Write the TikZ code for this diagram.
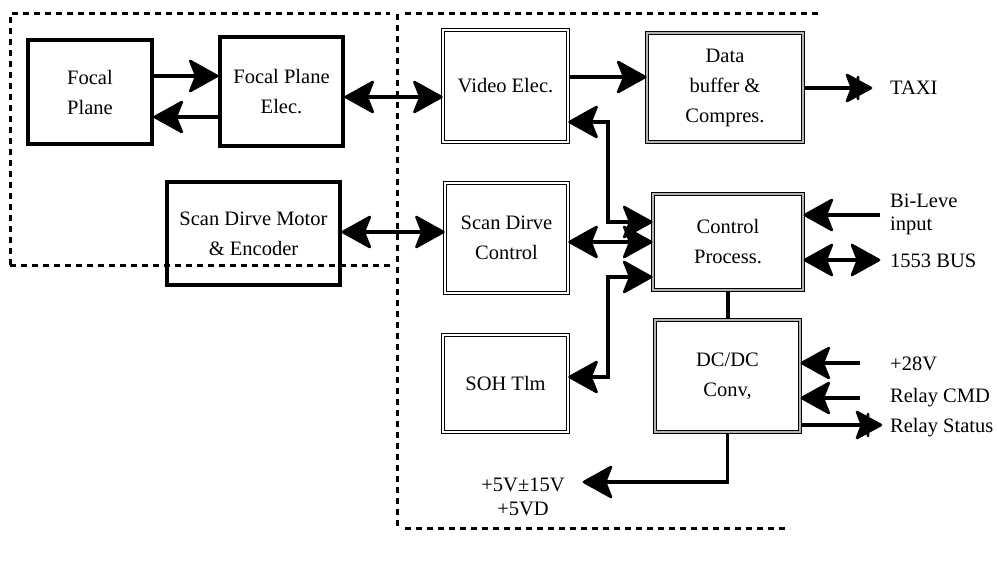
\documentclass[tikz,border=0pt]{standalone}
\usepackage{fontspec}
\setmainfont{Liberation Serif}
\usetikzlibrary{arrows.meta}
\pgfdeclarearrow{
  name = Blob,
  setup code = {
    \pgfarrowssettipend{1pt}
    \pgfarrowssetlineend{-16pt}
    \pgfarrowssetbackend{-28pt}
    \pgfarrowshullpoint{1pt}{0pt}
    \pgfarrowshullpoint{-28pt}{16pt}
    \pgfarrowshullpoint{-28pt}{-16pt}
  },
  drawing code = {
    \pgfsetlinewidth{2.6pt}
    \pgfsetroundcap
    \pgfsetroundjoin
    \pgfpathmoveto{\pgfpoint{0pt}{0pt}}\pgfpathlineto{\pgfpoint{-27pt}{15pt}}
    \pgfpathmoveto{\pgfpoint{0pt}{0pt}}\pgfpathlineto{\pgfpoint{-25.8pt}{12pt}}
    \pgfpathmoveto{\pgfpoint{0pt}{0pt}}\pgfpathlineto{\pgfpoint{-24.6pt}{9pt}}
    \pgfpathmoveto{\pgfpoint{0pt}{0pt}}\pgfpathlineto{\pgfpoint{-23.4pt}{6pt}}
    \pgfpathmoveto{\pgfpoint{0pt}{0pt}}\pgfpathlineto{\pgfpoint{-22.2pt}{3pt}}
    \pgfpathmoveto{\pgfpoint{0pt}{0pt}}\pgfpathlineto{\pgfpoint{-21pt}{0pt}}
    \pgfpathmoveto{\pgfpoint{0pt}{0pt}}\pgfpathlineto{\pgfpoint{-22.2pt}{-3pt}}
    \pgfpathmoveto{\pgfpoint{0pt}{0pt}}\pgfpathlineto{\pgfpoint{-23.4pt}{-6pt}}
    \pgfpathmoveto{\pgfpoint{0pt}{0pt}}\pgfpathlineto{\pgfpoint{-24.6pt}{-9pt}}
    \pgfpathmoveto{\pgfpoint{0pt}{0pt}}\pgfpathlineto{\pgfpoint{-25.8pt}{-12pt}}
    \pgfpathmoveto{\pgfpoint{0pt}{0pt}}\pgfpathlineto{\pgfpoint{-27pt}{-15pt}}
    \pgfpathmoveto{\pgfpoint{-27pt}{15pt}}\pgfpathlineto{\pgfpoint{-21pt}{0pt}}\pgfpathlineto{\pgfpoint{-27pt}{-15pt}}
    \pgfpathmoveto{\pgfpoint{-4pt}{1.5pt}}\pgfpathlineto{\pgfpoint{-4pt}{-1.5pt}}
    \pgfpathmoveto{\pgfpoint{-9pt}{4pt}}\pgfpathlineto{\pgfpoint{-9pt}{-4pt}}
    \pgfpathmoveto{\pgfpoint{-14pt}{7pt}}\pgfpathlineto{\pgfpoint{-14pt}{-7pt}}
    \pgfpathmoveto{\pgfpoint{-19pt}{10pt}}\pgfpathlineto{\pgfpoint{-19pt}{-10pt}}
    \pgfusepathqstroke
  },
}
\pgfdeclarearrow{
  name = BarBlob,
  setup code = {
    \pgfarrowssettipend{1pt}
    \pgfarrowssetlineend{-14pt}
    \pgfarrowssetbackend{-25pt}
    \pgfarrowshullpoint{1pt}{0pt}
    \pgfarrowshullpoint{-25pt}{14pt}
    \pgfarrowshullpoint{-25pt}{-14pt}
  },
  drawing code = {
    \pgfsetlinewidth{2.6pt}
    \pgfsetroundcap
    \pgfsetroundjoin
    \pgfpathmoveto{\pgfpoint{0pt}{0pt}}\pgfpathlineto{\pgfpoint{-24pt}{13pt}}
    \pgfpathmoveto{\pgfpoint{0pt}{0pt}}\pgfpathlineto{\pgfpoint{-23pt}{10pt}}
    \pgfpathmoveto{\pgfpoint{0pt}{0pt}}\pgfpathlineto{\pgfpoint{-21.8pt}{7pt}}
    \pgfpathmoveto{\pgfpoint{0pt}{0pt}}\pgfpathlineto{\pgfpoint{-20.6pt}{3.5pt}}
    \pgfpathmoveto{\pgfpoint{0pt}{0pt}}\pgfpathlineto{\pgfpoint{-19pt}{0pt}}
    \pgfpathmoveto{\pgfpoint{0pt}{0pt}}\pgfpathlineto{\pgfpoint{-20.6pt}{-3.5pt}}
    \pgfpathmoveto{\pgfpoint{0pt}{0pt}}\pgfpathlineto{\pgfpoint{-21.8pt}{-7pt}}
    \pgfpathmoveto{\pgfpoint{0pt}{0pt}}\pgfpathlineto{\pgfpoint{-23pt}{-10pt}}
    \pgfpathmoveto{\pgfpoint{0pt}{0pt}}\pgfpathlineto{\pgfpoint{-24pt}{-13pt}}
    \pgfpathmoveto{\pgfpoint{-24pt}{13pt}}\pgfpathlineto{\pgfpoint{-19pt}{0pt}}\pgfpathlineto{\pgfpoint{-24pt}{-13pt}}
    \pgfpathmoveto{\pgfpoint{-8pt}{3.5pt}}\pgfpathlineto{\pgfpoint{-8pt}{-3.5pt}}
    \pgfpathmoveto{\pgfpoint{-13pt}{11pt}}\pgfpathlineto{\pgfpoint{-13pt}{-11pt}}
    \pgfpathmoveto{\pgfpoint{-17pt}{8pt}}\pgfpathlineto{\pgfpoint{-17pt}{-8pt}}
    \pgfusepathqstroke
  },
}
\begin{document}
\begin{tikzpicture}[x=1pt,y=-1pt,
  txt/.style={font=\fontsize{20.5}{30}\selectfont, align=center},
  heavybox/.style={draw, line width=3.5pt, txt, inner sep=0pt},
  dblbox/.style={draw, double, double distance=1.3pt, line width=1.2pt, txt, inner sep=0pt},
  darkbox/.style={draw, double=gray!60, double distance=1.2pt, line width=1.6pt, txt, inner sep=0pt},
  conn/.style={line width=3.5pt},
  bus/.style={line width=3.5pt},
  lbl/.style={font=\fontsize{20.5}{23}\selectfont, anchor=west, align=left, inner sep=0pt},
  region/.style={line width=3pt, dash pattern=on 6pt off 5pt}
]
\useasboundingbox (0,0) rectangle (997,567);

% dashed regions
\draw[region] (10,265) -- (10,14) -- (390,14);
\draw[region] (10,265) -- (390,265);
\draw[region] (397,14) -- (397,528);
\draw[region] (405,14) -- (820,14);
\draw[region] (405,528) -- (790,528);

% boxes
\node[heavybox, minimum width=124, minimum height=104] (fp) at (90,92) {Focal\\Plane};
\node[heavybox, minimum width=123, minimum height=109] (fpe) at (281.5,91.5) {Focal Plane\\Elec.};
\node[dblbox, minimum width=125, minimum height=112] (ve) at (505.5,86) {Video Elec.};
\node[darkbox, minimum width=156, minimum height=109] (db) at (725,87.5) {Data\\buffer \&\\Compres.};
\node[heavybox, minimum width=173, minimum height=103] (sdm) at (253.5,233.5) {Scan Dirve Motor\\\& Encoder};
\node[dblbox, minimum width=123, minimum height=110] (sdc) at (506.5,238) {Scan Dirve\\Control};
\node[darkbox, minimum width=150, minimum height=96] (cp) at (728,242) {Control\\Process.};
\node[dblbox, minimum width=125, minimum height=97] (soh) at (505.5,383.5) {SOH Tlm};
\node[darkbox, minimum width=145, minimum height=112] (dc) at (727.5,376) {DC/DC\\Conv,};

% labels
\node[lbl] (taxi) at (890,88) {TAXI};
\node[lbl] (bil) at (890,214) {Bi-Leve\\input};
\node[lbl] (bus1553) at (890,261) {1553 BUS};
\node[lbl] (p28) at (890,364) {+28V};
\node[lbl] (rcmd) at (890,398) {Relay CMD};
\node[lbl] (rst) at (890,428) {Relay Status};
\node[txt] (pw1) at (523,485) {+5V±15V};
\node[txt] (pw2) at (523,509) {+5VD};

% free ends
\coordinate (bilend) at (880,215);
\coordinate (busend) at (880,260);
\coordinate (p28end) at (860,363);
\coordinate (rcmdend) at (860,398);
\coordinate (rstend) at (882,425);
\coordinate (taxiend) at (872,88);
\coordinate (pwend) at (583,482);

% connectors
\draw[conn,-Blob] (fp.east|-0,76) -- (fpe.west|-0,76);
\draw[conn,-Blob] (fpe.west|-0,117) -- (fp.east|-0,117);
\draw[conn,Blob-Blob] (fpe.east|-0,97) -- (ve.west|-0,97);
\draw[conn,-Blob] (ve.east|-0,77) -- (db.west|-0,77);
\draw[conn,Blob-Blob] (sdm.east|-0,232) -- (sdc.west|-0,232);
\draw[conn,Blob-Blob] (sdc.east|-0,242) -- (cp.west|-0,242);
\draw[conn,Blob-Blob] (cp.west|-0,222) -| (608,122) -- (ve.east|-0,122);
\draw[conn,Blob-Blob] (cp.west|-0,277) -| (608,377) -- (soh.east|-0,377);
\draw[bus] (cp.south) -- (cp.south|-dc.north);
\draw[conn,-BarBlob] (db.east|-0,88) -- (taxiend);
\draw[conn,-Blob] (bilend) -- (cp.east|-bilend);
\draw[conn,Blob-Blob] (cp.east|-busend) -- (busend);
\draw[conn,-Blob] (p28end) -- (dc.east|-p28end);
\draw[conn,-Blob] (rcmdend) -- (dc.east|-rcmdend);
\draw[conn,-BarBlob] (dc.east|-rstend) -- (rstend);
\draw[conn,-Blob] (dc.south) |- (pwend);
\end{tikzpicture}
\end{document}
